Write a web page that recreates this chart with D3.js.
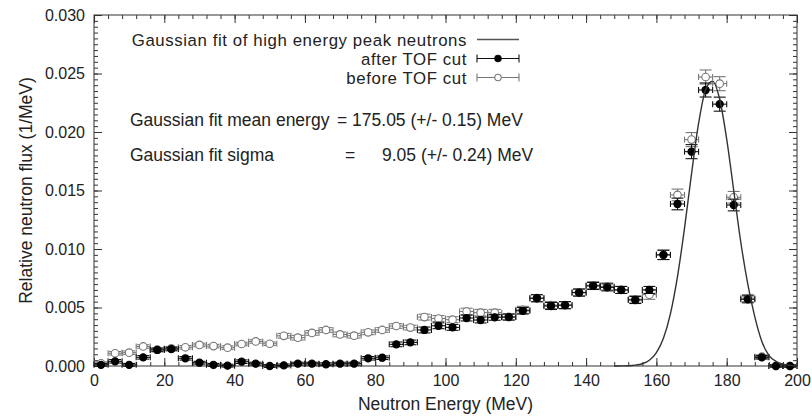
<!DOCTYPE html>
<html>
<head>
<meta charset="utf-8">
<script src="https://cdn.jsdelivr.net/npm/d3@7"></script>
<style>
  html, body { margin: 0; padding: 0; background: #fff; }
  svg { display: block; font-family: "Liberation Sans", Arial, sans-serif; }
</style>
</head>
<body>
<svg id="chart" width="812" height="418"></svg>
<script>
// ---------------- data ----------------
const energies = [2,6,10,14,18,22,26,30,34,38,42,46,50,54,58,62,66,70,74,78,82,86,90,94,98,
                  102,106,110,114,118,122,126,130,134,138,142,146,150,154,158,162,166,170,174,178,182,186,190,194,198];
const binHalfWidth = 2;

const fluxAfter = [0.0001,0.0004,0.0001,0.00074,0.00137,0.00145,0.00066,0.00028,0.0001,0.00003,
                   0.00037,0.0002,0.0,0.00005,0.0002,0.0002,0.00015,0.0002,0.0002,0.00066,
                   0.00071,0.00185,0.00202,0.00308,0.00344,0.0033,0.0041,0.00393,0.00416,0.00418,
                   0.00472,0.00579,0.00513,0.0052,0.00627,0.00684,0.00672,0.0065,0.00564,0.0065,
                   0.0095,0.01385,0.01832,0.02359,0.02238,0.01376,0.0057,0.00074,0.0,0.0];
const errAfter  = [0.00012,0.00015,0.00012,0.00015,0.00015,0.00015,0.00015,0.00012,0.00012,0.00012,
                   0.00015,0.00012,0.00012,0.00012,0.00012,0.00012,0.00012,0.00012,0.00012,0.00015,
                   0.00015,0.0002,0.0002,0.00025,0.00025,0.00025,0.00025,0.00025,0.00025,0.00025,
                   0.00028,0.0003,0.0003,0.0003,0.0003,0.0003,0.0003,0.0003,0.0003,0.0003,
                   0.0004,0.0005,0.0006,0.0006,0.0006,0.0005,0.0003,0.00015,0.0001,0.0001];

const fluxBefore = [0.00023,0.00109,0.00114,0.00167,0.0014,0.0015,0.0016,0.0018,0.0017,0.00157,
                    0.00188,0.0021,0.0019,0.00258,0.00242,0.00283,0.00308,0.0027,0.00259,0.00288,
                    0.00308,0.00342,0.00328,0.00418,0.00406,0.00396,0.00466,0.00456,0.00456,0.0042,
                    0.0048,0.0058,0.0052,0.0052,0.0063,0.0069,0.0068,0.0065,0.0057,0.0061,
                    0.0095,0.01462,0.01935,0.0247,0.02413,0.01442,0.0058,0.0008,0.0,0.0];
const errBefore  = [0.00012,0.00015,0.00015,0.00015,0.00015,0.00015,0.00015,0.00015,0.00015,0.00015,
                    0.00015,0.00015,0.00015,0.0002,0.0002,0.0002,0.0002,0.0002,0.0002,0.0002,
                    0.0002,0.0002,0.0002,0.00025,0.00025,0.00025,0.00028,0.00028,0.00028,0.00028,
                    0.0003,0.0003,0.0003,0.0003,0.0003,0.0003,0.0003,0.0003,0.0003,0.0004,
                    0.0004,0.0005,0.0006,0.0006,0.0006,0.0005,0.0003,0.00015,0.0001,0.0001];

// Gaussian fit curve
const fitEnergy = [148,150,152,154,156,158,160,162,164,166,168,170,172,174,176,178,180,182,184,186,188,190,192,194,196,198,200];
const fitFlux   = [0.0,0.00001,0.00002,0.00007,0.00019,0.00049,0.00114,0.00237,0.00448,0.00764,0.01178,0.01644,0.02073,0.02362,0.02435,
                   0.0228,0.0194,0.0150,0.0106,0.0070,0.0042,0.0021,0.0009,0.0004,0.00015,0.00005,0.00001];

const xTickValues = [0,20,40,60,80,100,120,140,160,180,200];
const xMinorValues = d3.range(0, 201, 4);
const yTickValues = [0.000,0.005,0.010,0.015,0.020,0.025,0.030];
const yMinorValues = d3.range(0, 0.03001, 0.0005);

const legendLabels = ["Gaussian fit of high energy peak neutrons", "after TOF cut", "before TOF cut"];
const fitTextLabels = ["Gaussian fit mean energy", "= 175.05 (+/- 0.15) MeV", "Gaussian fit sigma", "=", "9.05 (+/- 0.24) MeV"];
const xTitle = "Neutron Energy (MeV)";
const yTitle = "Relative neutron flux (1/MeV)";

// ---------------- drawing ----------------
const svg = d3.select("#chart");
const L = 94, R = 797, T = 15, B = 366;
const x = d3.scaleLinear().domain([0, 200]).range([L, R]);
const y = d3.scaleLinear().domain([0, 0.03]).range([B, T]);
const ink = "#222";
const gray = "#777";

// axes
function styleAxis(g) {
  g.select(".domain").remove();
  g.selectAll(".tick line").attr("stroke", "#333").attr("stroke-width", 1);
  g.selectAll("text").attr("fill", ink).style("font-size", "16px");
}
svg.append("g").attr("transform", `translate(0,${B})`)
  .call(d3.axisBottom(x).tickValues(xMinorValues).tickSize(-4).tickFormat(""))
  .call(styleAxis);
svg.append("g").attr("transform", `translate(0,${B})`)
  .call(d3.axisBottom(x).tickValues(xTickValues).tickSize(-8).tickPadding(9).tickFormat(d3.format("d")))
  .call(styleAxis);
svg.append("g").attr("transform", `translate(0,${T})`)
  .call(d3.axisTop(x).tickValues(xMinorValues).tickSize(-4).tickFormat(""))
  .call(styleAxis);
svg.append("g").attr("transform", `translate(0,${T})`)
  .call(d3.axisTop(x).tickValues(xTickValues).tickSize(-8).tickFormat(""))
  .call(styleAxis);
svg.append("g").attr("transform", `translate(${L},0)`)
  .call(d3.axisLeft(y).tickValues(yMinorValues).tickSize(-4).tickFormat(""))
  .call(styleAxis);
svg.append("g").attr("transform", `translate(${L},0)`)
  .call(d3.axisLeft(y).tickValues(yTickValues).tickSize(-8).tickPadding(9).tickFormat(d3.format(".3f")))
  .call(styleAxis);
svg.append("g").attr("transform", `translate(${R},0)`)
  .call(d3.axisRight(y).tickValues(yMinorValues).tickSize(-4).tickFormat(""))
  .call(styleAxis);
svg.append("g").attr("transform", `translate(${R},0)`)
  .call(d3.axisRight(y).tickValues(yTickValues).tickSize(-8).tickFormat(""))
  .call(styleAxis);

// frame
svg.append("rect").attr("x", L).attr("y", T).attr("width", R - L).attr("height", B - T)
  .attr("fill", "none").attr("stroke", "#333").attr("stroke-width", 1);

// axis titles
svg.append("text").attr("x", (L + R) / 2).attr("y", 410).attr("text-anchor", "middle")
  .attr("fill", ink).style("font-size", "17.5px").text(xTitle);
svg.append("text").attr("transform", `translate(32,${(T + B) / 2}) rotate(-90)`)
  .attr("text-anchor", "middle").attr("fill", ink).style("font-size", "17.5px").text(yTitle);

// error bars
function drawSeries(values, errs, color, filled) {
  const g = svg.append("g");
  const d = energies.map((e, i) => ({e, v: values[i], s: errs[i]}));
  const cap = 6, xcap = 3;
  const grp = g.selectAll("g").data(d).join("g").attr("stroke", color).attr("stroke-width", 1.1).attr("fill", "none");
  grp.append("line").attr("x1", p => x(p.e - binHalfWidth)).attr("x2", p => x(p.e + binHalfWidth))
    .attr("y1", p => y(p.v)).attr("y2", p => y(p.v));
  grp.append("line").attr("x1", p => x(p.e - binHalfWidth)).attr("x2", p => x(p.e - binHalfWidth))
    .attr("y1", p => y(p.v) - xcap).attr("y2", p => y(p.v) + xcap);
  grp.append("line").attr("x1", p => x(p.e + binHalfWidth)).attr("x2", p => x(p.e + binHalfWidth))
    .attr("y1", p => y(p.v) - xcap).attr("y2", p => y(p.v) + xcap);
  grp.append("line").attr("x1", p => x(p.e)).attr("x2", p => x(p.e))
    .attr("y1", p => y(p.v - p.s)).attr("y2", p => y(p.v + p.s));
  grp.append("line").attr("x1", p => x(p.e) - cap).attr("x2", p => x(p.e) + cap)
    .attr("y1", p => y(p.v - p.s)).attr("y2", p => y(p.v - p.s));
  grp.append("line").attr("x1", p => x(p.e) - cap).attr("x2", p => x(p.e) + cap)
    .attr("y1", p => y(p.v + p.s)).attr("y2", p => y(p.v + p.s));
  grp.append("circle").attr("cx", p => x(p.e)).attr("cy", p => y(p.v))
    .attr("r", filled ? 3.6 : 3.8)
    .attr("fill", filled ? "#000" : "#fff")
    .attr("stroke", filled ? "#000" : gray);
}
drawSeries(fluxBefore, errBefore, gray, false);
drawSeries(fluxAfter, errAfter, "#111", true);

// fit curve
const fitData = fitEnergy.map((e, i) => [e, fitFlux[i]]);
svg.append("path").datum(fitData)
  .attr("d", d3.line().x(p => x(p[0])).y(p => y(p[1])).curve(d3.curveMonotoneX))
  .attr("fill", "none").attr("stroke", "#333").attr("stroke-width", 1.4);

// legend
const lg = svg.append("g").attr("fill", ink).style("font-size", "16.8px").style("letter-spacing", "0.6px");
const legY = [45.5, 64.5, 83.5];
lg.append("text").attr("x", 467).attr("y", legY[0]).attr("text-anchor", "end").text(legendLabels[0]);
lg.append("text").attr("x", 467).attr("y", legY[1]).attr("text-anchor", "end").text(legendLabels[1]);
lg.append("text").attr("x", 467).attr("y", legY[2]).attr("text-anchor", "end").text(legendLabels[2]);
const sx1 = 477, sx2 = 519, sxm = 498;
svg.append("line").attr("x1", sx1).attr("x2", sx2).attr("y1", legY[0] - 6).attr("y2", legY[0] - 6)
  .attr("stroke", "#555").attr("stroke-width", 1.4);
[[legY[1] - 6, "#111", true], [legY[2] - 6, gray, false]].forEach(([yy, c, f]) => {
  const g = svg.append("g").attr("stroke", c).attr("stroke-width", 1.1);
  g.append("line").attr("x1", sx1).attr("x2", sx2).attr("y1", yy).attr("y2", yy);
  g.append("line").attr("x1", sx1).attr("x2", sx1).attr("y1", yy - 4).attr("y2", yy + 4);
  g.append("line").attr("x1", sx2).attr("x2", sx2).attr("y1", yy - 4).attr("y2", yy + 4);
  g.append("circle").attr("cx", sxm).attr("cy", yy).attr("r", 3.2)
    .attr("fill", f ? "#000" : "#fff").attr("stroke", c);
});

// fit result text
const ft = svg.append("g").attr("fill", ink).style("font-size", "17.5px");
ft.append("text").attr("x", 130).attr("y", 126).text(fitTextLabels[0]);
ft.append("text").attr("x", 337).attr("y", 126).text(fitTextLabels[1]);
ft.append("text").attr("x", 130).attr("y", 161).text(fitTextLabels[2]);
ft.append("text").attr("x", 345).attr("y", 161).text(fitTextLabels[3]);
ft.append("text").attr("x", 382).attr("y", 161).text(fitTextLabels[4]);
</script>
</body>
</html>
